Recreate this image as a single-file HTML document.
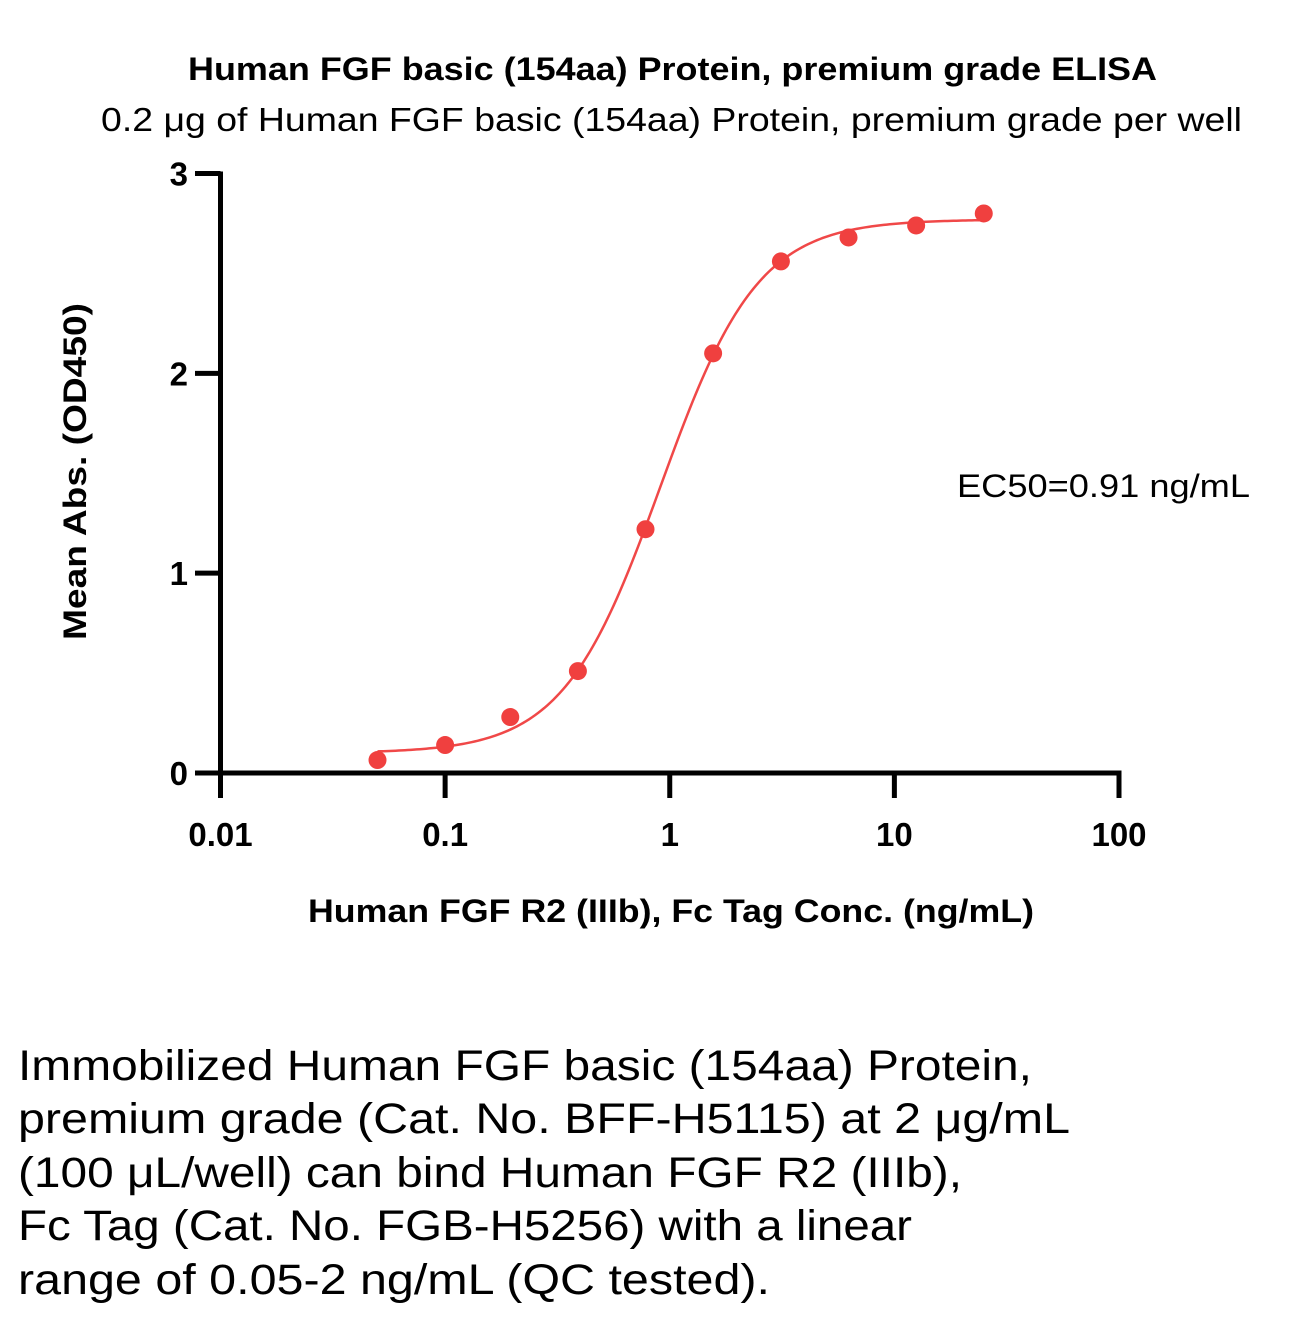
<!DOCTYPE html>
<html><head><meta charset="utf-8"><style>
html,body{margin:0;padding:0;background:#fff;width:1295px;height:1319px;overflow:hidden}
text{font-family:"Liberation Sans",sans-serif;fill:#000}
</style></head><body>
<svg id="chart" width="1295" height="1319" viewBox="0 0 1295 1319" xmlns="http://www.w3.org/2000/svg">
<text x="188" y="80" font-size="32" font-weight="bold" textLength="969" lengthAdjust="spacingAndGlyphs">Human FGF basic (154aa) Protein, premium grade ELISA</text>
<text x="101" y="131" font-size="33" textLength="1141" lengthAdjust="spacingAndGlyphs">0.2 μg of Human FGF basic (154aa) Protein, premium grade per well</text>
<g id="axes"></g>
<g id="marks"></g>
<text x="957" y="497" font-size="32" textLength="293" lengthAdjust="spacingAndGlyphs">EC50=0.91 ng/mL</text>
<text x="308" y="922" font-size="32" font-weight="bold" textLength="726" lengthAdjust="spacingAndGlyphs">Human FGF R2 (IIIb), Fc Tag Conc. (ng/mL)</text>
<text transform="translate(86,640) rotate(-90)" x="0" y="0" font-size="32" font-weight="bold" textLength="337" lengthAdjust="spacingAndGlyphs">Mean Abs. (OD450)</text>
<g font-size="43">
<text x="18" y="1080" textLength="1014" lengthAdjust="spacingAndGlyphs">Immobilized Human FGF basic (154aa) Protein,</text>
<text x="18" y="1133" textLength="1052" lengthAdjust="spacingAndGlyphs">premium grade (Cat. No. BFF-H5115) at 2 μg/mL</text>
<text x="18" y="1187" textLength="944" lengthAdjust="spacingAndGlyphs">(100 μL/well) can bind Human FGF R2 (IIIb),</text>
<text x="18" y="1240" textLength="894" lengthAdjust="spacingAndGlyphs">Fc Tag (Cat. No. FGB-H5256) with a linear</text>
<text x="18" y="1294" textLength="752" lengthAdjust="spacingAndGlyphs">range of 0.05-2 ng/mL (QC tested).</text>
</g>
</svg>
<script>
const concentrations=[0.05,0.1,0.195,0.39,0.78,1.56,3.125,6.25,12.5,25];
const absorbances=[0.065,0.14,0.28,0.51,1.22,2.1,2.56,2.68,2.74,2.8];
const xTickValues=[0.01,0.1,1,10,100];
const xTickLabels=["0.01","0.1","1","10","100"];
const yTickValues=[0,1,2,3];
const yTickLabels=["0","1","2","3"];
const fitBottom=[0.1];
const fitTop=[2.77];
const fitEC50=[0.91];
const fitHill=[2.0];

const NS="http://www.w3.org/2000/svg";
const X0=220.5,X1=1119,Y0=773,Y1=173.5;
function xs(v){return X0+(Math.log10(v)+2)/4*(X1-X0);}
function ys(v){return Y0-v/3*(Y0-Y1);}
function mk(tag,attrs,parent){const e=document.createElementNS(NS,tag);for(const k in attrs)e.setAttribute(k,attrs[k]);parent.appendChild(e);return e;}
const axes=document.getElementById('axes');
const marks=document.getElementById('marks');
let l=mk('line',{x1:X0,y1:Y1-2,x2:X0,y2:798,stroke:'#000','stroke-width':5},axes);


l=mk('line',{x1:195,y1:Y0,x2:X1+2.5,y2:Y0,stroke:'#000','stroke-width':5},axes);


xTickValues.forEach((v,i)=>{
 const x=xs(v);
 const t=mk('line',{x1:x,y1:Y0,x2:x,y2:798,stroke:'#000','stroke-width':5},axes);
 
 
 const tx=mk('text',{x:x,y:846,'font-size':33,'font-weight':'bold','text-anchor':'middle'},axes);
 tx.textContent=xTickLabels[i];
 
 
});
yTickValues.forEach((v,i)=>{
 const y=ys(v);
 const t=mk('line',{x1:195,y1:y,x2:X0,y2:y,stroke:'#000','stroke-width':5},axes);
 
 
 const tx=mk('text',{x:188,y:y+12,'font-size':33,'font-weight':'bold','text-anchor':'end'},axes);
 tx.textContent=yTickLabels[i];
 
 
});
function fit(c){const r=Math.pow(c/fitEC50[0],fitHill[0]);return fitBottom[0]+(fitTop[0]-fitBottom[0])*r/(1+r);}
let d='';
const lo=Math.log10(concentrations[0]),hi=Math.log10(concentrations[concentrations.length-1]);
for(let i=0;i<=200;i++){const c=Math.pow(10,lo+(hi-lo)*i/200);d+=(i?'L':'M')+xs(c).toFixed(2)+','+ys(fit(c)).toFixed(2);}
const p=mk('path',{d:d,fill:'none',stroke:'#f04848','stroke-width':2.5},marks);


concentrations.forEach((c,i)=>{
 const pt=mk('circle',{cx:xs(c),cy:ys(absorbances[i]),r:9,fill:'#f0403f'},marks);
 
 
});
</script>
</body></html>
